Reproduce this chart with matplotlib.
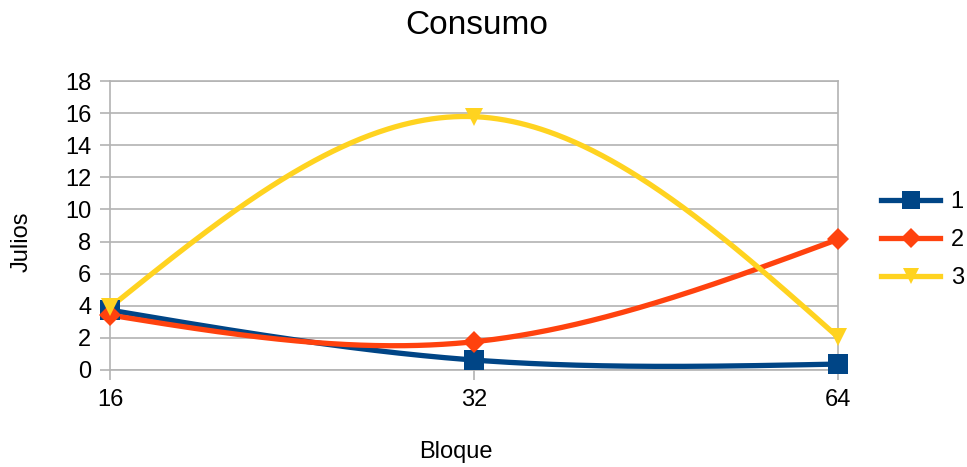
import numpy as np
import matplotlib
matplotlib.use("Agg")
import matplotlib.pyplot as plt
from matplotlib.lines import Line2D

plt.rcParams['font.family'] = ['Liberation Sans', 'DejaVu Sans']

# Datos
bloques = ["16", "32", "64"]
serie_1 = [3.73, 0.62, 0.37]
serie_2 = [3.42, 1.76, 8.14]
serie_3 = [3.90, 15.78, 2.05]
nombres = ["1", "2", "3"]
colores = ["#004586", "#ff420e", "#ffd320"]
marcadores = ["s", "D", "v"]
tam_marcador = [14.5, 11.5, 13.5]


def spline_natural(x, y, n=200):
    """Cubic natural spline through the given points."""
    x = np.asarray(x, float)
    y = np.asarray(y, float)
    k = len(x)
    h = np.diff(x)
    A = np.zeros((k, k))
    b = np.zeros(k)
    A[0, 0] = A[-1, -1] = 1.0
    for i in range(1, k - 1):
        A[i, i - 1] = h[i - 1]
        A[i, i] = 2 * (h[i - 1] + h[i])
        A[i, i + 1] = h[i]
        b[i] = 6 * ((y[i + 1] - y[i]) / h[i] - (y[i] - y[i - 1]) / h[i - 1])
    M = np.linalg.solve(A, b)
    xs, ys = [], []
    for i in range(k - 1):
        t = np.linspace(0, 1, n)
        a = 1 - t
        seg = (a * y[i] + t * y[i + 1]
               + ((a ** 3 - a) * M[i] + (t ** 3 - t) * M[i + 1]) * h[i] ** 2 / 6)
        xs.append(x[i] + t * h[i])
        ys.append(seg)
    return np.concatenate(xs), np.concatenate(ys)


W, H = 967, 467
fig = plt.figure(figsize=(W / 100, H / 100), dpi=100)
ax = fig.add_axes([110 / W, (H - 370) / H, (838 - 110) / W, (370 - 81) / H])

pos = np.arange(len(bloques))
series = [serie_1, serie_2, serie_3]
handles = []
for vals, nom, col, mk, ms in zip(series, nombres, colores, marcadores, tam_marcador):
    cx, cy = spline_natural(pos, vals)
    ax.plot(cx, cy, color=col, lw=3.8, solid_capstyle='butt', clip_on=False, zorder=3)
    ax.plot(pos, vals, linestyle='none', marker=mk, ms=ms, color=col,
            markeredgewidth=0, clip_on=False, zorder=4)
    handles.append(Line2D([], [], color=col, lw=3.8, marker=mk, ms=ms * 0.85,
                          markeredgewidth=0))

ax.set_xlim(0, 2)
ax.set_ylim(0, 18)
ax.set_yticks(np.arange(0, 19, 2))
ax.set_xticks(pos)
ax.set_xticklabels(bloques)
ax.yaxis.grid(True, color="#b3b3b3", lw=1.2)
ax.set_axisbelow(True)
for s in ax.spines.values():
    s.set_color("#b3b3b3")
    s.set_linewidth(1.2)
ax.tick_params(axis='both', colors="#b3b3b3", length=7.5, width=1.2,
               labelsize=17, labelcolor="black", pad=6)

fig.text(477 / W, 1 - 25 / H, "Consumo", ha='center', va='center', fontsize=24)
fig.text(456 / W, 1 - 452 / H, "Bloque", ha='center', va='center', fontsize=17)
fig.text(22 / W, 1 - 242 / H, "Julios", ha='center', va='center', fontsize=17,
         rotation=90)

fig.legend(handles, nombres, loc='center left', bbox_to_anchor=(881 / W, 1 - 240 / H),
           frameon=False, fontsize=17, handlelength=2.5, handletextpad=0.45,
           labelspacing=0.68, borderpad=0, borderaxespad=0)

fig.savefig("out.png", dpi=100)
